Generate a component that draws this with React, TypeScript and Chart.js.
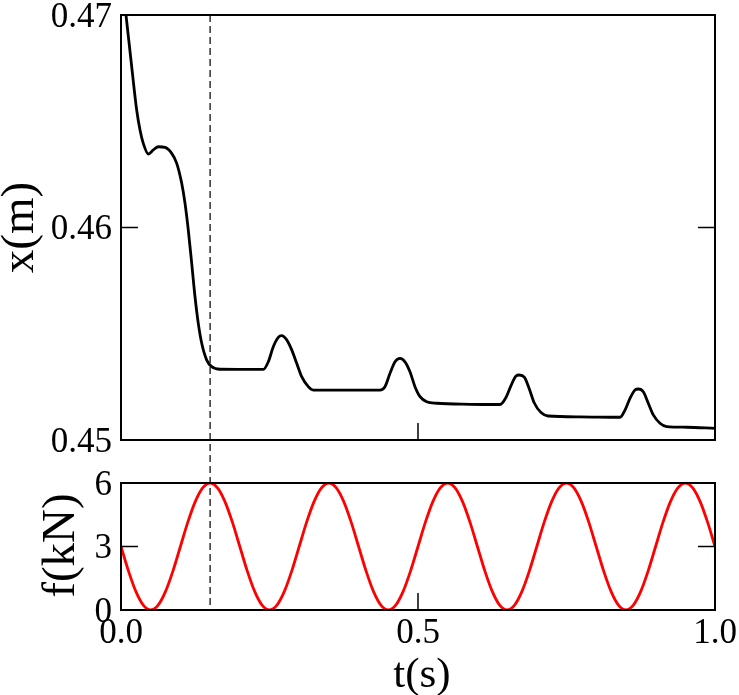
import React, { useEffect, useRef, useState } from "react";
import { Chart, registerables } from "chart.js";

Chart.register(...registerables);

// ---- data ----
const X_T = [
  0, 0.0084, 0.018, 0.0264, 0.032, 0.0375, 0.046, 0.0544, 0.0628, 0.0741,
  0.0854, 0.0938, 0.1022, 0.1077, 0.1133, 0.119, 0.1246, 0.1301, 0.1359, 0.1443,
  0.1527, 0.1667, 0.2396, 0.248, 0.2564, 0.2648, 0.2705, 0.279, 0.2874, 0.2958,
  0.3042, 0.3153, 0.3237, 0.3463, 0.436, 0.4444, 0.4529, 0.4613, 0.4697, 0.4781,
  0.4865, 0.4949, 0.5034, 0.5146, 0.5315, 0.5875, 0.638, 0.6481, 0.6566, 0.665,
  0.6706, 0.679, 0.6874, 0.6958, 0.7071, 0.7189, 0.7727, 0.8401, 0.8485, 0.8569,
  0.8653, 0.8709, 0.8793, 0.8877, 0.8961, 0.9074, 0.9187, 0.9524, 1.0,
];
const X_M = [
  0.47212, 0.47, 0.46757, 0.46553, 0.46459, 0.46396, 0.46346, 0.46365, 0.4638, 0.46377,
  0.46349, 0.46302, 0.46208, 0.46115, 0.45988, 0.45832, 0.45674, 0.45549, 0.45455, 0.45376,
  0.45345, 0.45333, 0.45332, 0.45368, 0.45439, 0.45483, 0.45491, 0.45471, 0.45424, 0.45361,
  0.45298, 0.45251, 0.45235, 0.45235, 0.45235, 0.45251, 0.45314, 0.45368, 0.45384, 0.45368,
  0.45321, 0.45251, 0.45204, 0.4518, 0.45173, 0.45168, 0.45167, 0.452, 0.45256, 0.45301,
  0.45306, 0.45296, 0.4524, 0.45174, 0.45129, 0.45113, 0.45109, 0.45107, 0.45141, 0.45196,
  0.45235, 0.4524, 0.45227, 0.45173, 0.45118, 0.45079, 0.45063, 0.4506, 0.45055,
];

const F_T = [
  0, 0.0125, 0.025, 0.0375, 0.05, 0.0625, 0.075, 0.0875, 0.1, 0.1125, 0.125, 0.1375, 0.15, 0.1625, 0.175, 0.1875,
  0.2, 0.2125, 0.225, 0.2375, 0.25, 0.2625, 0.275, 0.2875, 0.3, 0.3125, 0.325, 0.3375, 0.35, 0.3625, 0.375, 0.3875,
  0.4, 0.4125, 0.425, 0.4375, 0.45, 0.4625, 0.475, 0.4875, 0.5, 0.5125, 0.525, 0.5375, 0.55, 0.5625, 0.575, 0.5875,
  0.6, 0.6125, 0.625, 0.6375, 0.65, 0.6625, 0.675, 0.6875, 0.7, 0.7125, 0.725, 0.7375, 0.75, 0.7625, 0.775, 0.7875,
  0.8, 0.8125, 0.825, 0.8375, 0.85, 0.8625, 0.875, 0.8875, 0.9, 0.9125, 0.925, 0.9375, 0.95, 0.9625, 0.975, 0.9875,
  1.0,
];
const F_KN = [
  3, 1.85, 0.88, 0.23, 0, 0.23, 0.88, 1.85, 3, 4.15, 5.12, 5.77, 6, 5.77, 5.12, 4.15,
  3, 1.85, 0.88, 0.23, 0, 0.23, 0.88, 1.85, 3, 4.15, 5.12, 5.77, 6, 5.77, 5.12, 4.15,
  3, 1.85, 0.88, 0.23, 0, 0.23, 0.88, 1.85, 3, 4.15, 5.12, 5.77, 6, 5.77, 5.12, 4.15,
  3, 1.85, 0.88, 0.23, 0, 0.23, 0.88, 1.85, 3, 4.15, 5.12, 5.77, 6, 5.77, 5.12, 4.15,
  3, 1.85, 0.88, 0.23, 0, 0.23, 0.88, 1.85, 3, 4.15, 5.12, 5.77, 6, 5.77, 5.12, 4.15,
  3,
];

const T_TICKS = [0, 0.5, 1.0];
const T_LABELS = ["0.0", "0.5", "1.0"];
const XM_TICKS = [0.45, 0.46, 0.47];
const XM_LABELS = ["0.45", "0.46", "0.47"];
const F_TICKS = [0, 3, 6];
const F_LABELS = ["0", "3", "6"];
const MARK_T = 0.15;

const FAMILY = "Liberation Serif";
const TICK_SIZE = 35;
const YTITLE_SIZE = 47;
const XTITLE_SIZE = 43;
const ASC = 0.8375; // baseline offset (em) inside a line box with line-height 1

type Label = { text: string; x: number; y: number; size: number; kind: "right" | "center" | "rot" };

function seg(ctx: CanvasRenderingContext2D, x1: number, y1: number, x2: number, y2: number) {
  ctx.beginPath();
  ctx.moveTo(x1, y1);
  ctx.lineTo(x2, y2);
  ctx.stroke();
}

function framePlugin(xTicks: number[], yTicks: number[]) {
  return {
    id: "frame",
    afterDatasetsDraw(chart: any) {
      const { ctx, chartArea: a, scales } = chart;
      ctx.save();
      ctx.strokeStyle = "#000";
      ctx.lineWidth = 1.5;
      for (const v of yTicks) {
        const p = scales.y.getPixelForValue(v);
        seg(ctx, a.left, p, a.left + 17, p);
        seg(ctx, a.right - 17, p, a.right, p);
      }
      for (const v of xTicks) {
        const p = scales.x.getPixelForValue(v);
        seg(ctx, p, a.bottom, p, a.bottom - 17);
      }
      ctx.lineWidth = 2;
      ctx.strokeRect(a.left, a.top, a.right - a.left, a.bottom - a.top);
      ctx.restore();
    },
  };
}

function fixY(width: number) {
  return (s: any) => {
    s.width = width;
    s.paddingTop = 0;
    s.paddingBottom = 0;
    s.paddingLeft = 0;
    s.paddingRight = 0;
  };
}

function fixX(height: number) {
  return (s: any) => {
    s.height = height;
    s.paddingTop = 0;
    s.paddingBottom = 0;
    s.paddingLeft = 0;
    s.paddingRight = 0;
  };
}

const hiddenAxis = {
  grid: { display: false, drawTicks: false },
  border: { display: false },
  ticks: { display: false },
  title: { display: false },
};

export default function App() {
  const topRef = useRef<HTMLCanvasElement | null>(null);
  const botRef = useRef<HTMLCanvasElement | null>(null);
  const [labels, setLabels] = useState<Label[]>([]);

  useEffect(() => {
    if (!topRef.current || !botRef.current) return;

    const topChart = new Chart(topRef.current, {
      type: "line",
      data: {
        datasets: [
          {
            data: X_T.map((t, i) => ({ x: t, y: X_M[i] })),
            borderColor: "#000",
            borderWidth: 2.8,
            pointRadius: 0,
            cubicInterpolationMode: "monotone",
            fill: false,
          },
        ],
      },
      options: {
        animation: false,
        responsive: false,
        devicePixelRatio: 1,
        layout: { padding: { top: 15, left: 0, right: 24, bottom: 255 } },
        plugins: { legend: { display: false }, tooltip: { enabled: false } },
        scales: {
          x: { type: "linear", min: 0, max: 1, display: false },
          y: { type: "linear", min: 0.45, max: 0.47, afterFit: fixY(121), ...hiddenAxis },
        },
      },
      plugins: [framePlugin(T_TICKS, XM_TICKS)],
    } as any);

    const markPlugin = {
      id: "mark",
      afterDatasetsDraw(chart: any) {
        const { ctx, chartArea: a, scales } = chart;
        const x = scales.x.getPixelForValue(MARK_T);
        const top = topChart.chartArea ? topChart.chartArea.top : a.top;
        ctx.save();
        ctx.strokeStyle = "#111";
        ctx.lineWidth = 1.3;
        ctx.setLineDash([7, 4]);
        seg(ctx, x, top, x, a.bottom);
        ctx.restore();
      },
    };

    const botChart = new Chart(botRef.current, {
      type: "line",
      data: {
        datasets: [
          {
            data: F_T.map((t, i) => ({ x: t, y: F_KN[i] })),
            borderColor: "#ff0000",
            borderWidth: 2.8,
            pointRadius: 0,
            cubicInterpolationMode: "monotone",
            fill: false,
          },
        ],
      },
      options: {
        animation: false,
        responsive: false,
        devicePixelRatio: 1,
        layout: { padding: { top: 483, left: 0, right: 24, bottom: 0 } },
        plugins: { legend: { display: false }, tooltip: { enabled: false } },
        scales: {
          x: { type: "linear", min: 0, max: 1, afterFit: fixX(85), ...hiddenAxis },
          y: { type: "linear", min: 0, max: 6, afterFit: fixY(121), ...hiddenAxis },
        },
      },
      plugins: [framePlugin(T_TICKS, F_TICKS), markPlugin],
    } as any);

    const ta = topChart.chartArea;
    const ba = botChart.chartArea;
    const ts: any = topChart.scales;
    const bs: any = botChart.scales;
    const out: Label[] = [];
    XM_TICKS.forEach((v, i) =>
      out.push({ text: XM_LABELS[i], x: ta.left - 9, y: ts.y.getPixelForValue(v) + 12, size: TICK_SIZE, kind: "right" })
    );
    F_TICKS.forEach((v, i) =>
      out.push({ text: F_LABELS[i], x: ba.left - 9, y: bs.y.getPixelForValue(v) + 12, size: TICK_SIZE, kind: "right" })
    );
    T_TICKS.forEach((v, i) =>
      out.push({ text: T_LABELS[i], x: bs.x.getPixelForValue(v), y: ba.bottom + 33, size: TICK_SIZE, kind: "center" })
    );
    out.push({ text: "t(s)", x: (ba.left + ba.right) / 2 + 4, y: ba.bottom + 77, size: XTITLE_SIZE, kind: "center" });
    out.push({ text: "x(m)", x: 33, y: (ta.top + ta.bottom) / 2, size: YTITLE_SIZE, kind: "rot" });
    out.push({ text: "f(kN)", x: 74, y: (ba.top + ba.bottom) / 2 - 1, size: YTITLE_SIZE, kind: "rot" });
    setLabels(out);

    return () => {
      botChart.destroy();
      topChart.destroy();
    };
  }, []);

  return (
    <div
      style={{
        position: "absolute",
        left: 0,
        top: 0,
        width: 739,
        height: 695,
        background: "#fff",
        overflow: "hidden",
        color: "#000",
      }}
    >
      <canvas ref={topRef} width={739} height={695} style={{ position: "absolute", left: 0, top: 0 }} />
      <canvas ref={botRef} width={739} height={695} style={{ position: "absolute", left: 0, top: 0 }} />
      {labels.map((l, i) => {
        const base: React.CSSProperties = {
          position: "absolute",
          fontSize: l.size,
          lineHeight: 1,
          whiteSpace: "nowrap",
          fontFamily: FAMILY,
        };
        if (l.kind === "right") {
          return (
            <span key={i} style={{ ...base, right: 739 - l.x, top: l.y - ASC * l.size }}>
              {l.text}
            </span>
          );
        }
        if (l.kind === "center") {
          return (
            <span key={i} style={{ ...base, left: l.x, top: l.y - ASC * l.size, transform: "translateX(-50%)" }}>
              {l.text}
            </span>
          );
        }
        return (
          <span
            key={i}
            style={{
              ...base,
              left: 0,
              top: 0,
              transformOrigin: "0 0",
              transform: `translate(${l.x}px, ${l.y}px) rotate(-90deg) translate(-50%, -${ASC}em)`,
            }}
          >
            {l.text}
          </span>
        );
      })}
    </div>
  );
}
